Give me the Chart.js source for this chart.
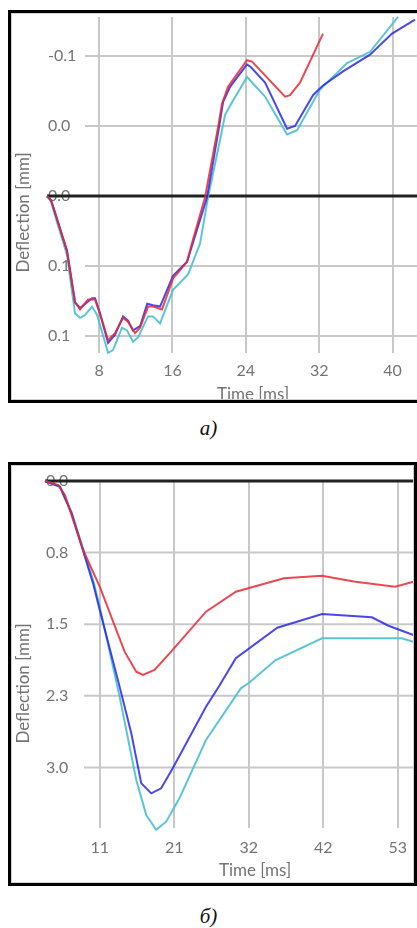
<!DOCTYPE html>
<html>
<head>
<meta charset="utf-8">
<script src="https://cdn.jsdelivr.net/npm/chart.js@4.4.1/dist/chart.umd.min.js"></script>
<style>
  html, body { margin: 0; padding: 0; background: #fff; overflow: hidden; width: 417px; height: 928px; }
  canvas { position: absolute; left: 0; }
  #chartA { top: 0; }
  #chartB { top: 455px; }
  .frame { position: absolute; box-sizing: border-box; border: 3px solid #000; box-shadow: inset 0 0 0 1px #cfcfcf; pointer-events: none; }
  #frameA { left: 8px; top: 10px; width: 420px; height: 393px; }
  #frameB { left: 8px; top: 462px; width: 409px; height: 424px; }
  .cap { position: absolute; left: 0; width: 417px; text-align: center; font: italic 21px "Liberation Serif", serif; color: #111; }
</style>
</head>
<body>
<canvas id="chartA" width="417" height="405"></canvas>
<div class="frame" id="frameA"></div>
<div class="cap" style="top:416px">a)</div>
<canvas id="chartB" width="417" height="430"></canvas>
<div class="frame" id="frameB"></div>
<div class="cap" style="top:904px">б)</div>
<script>
// ---- chart a) ----
const xTicksA = [8, 16, 24, 32, 40];
const xLabelsA = ['8', '16', '24', '32', '40'];
const yTicksA = [-0.1, -0.05, 0, 0.05, 0.1];
const yLabelsA = ['-0.1', '0.0', '0.0', '0.1', '0.1'];

const redTimeA = [2.32, 2.76, 3.2, 4.5, 5.38, 5.92, 6.79, 7.56, 8.1, 8.98, 9.74, 10.61, 11.16, 11.92, 12.47, 13.34, 13.88, 14.86, 16.06, 17.59, 18.24, 19.55, 20.97, 21.41, 22.06, 24.13, 24.68, 28.28, 28.82, 29.91, 32.42];
const redDeflA = [0, 0.003, 0.012, 0.039, 0.076, 0.081, 0.074, 0.074, 0.084, 0.103, 0.098, 0.087, 0.09, 0.098, 0.094, 0.079, 0.079, 0.081, 0.059, 0.047, 0.031, 0.001, -0.049, -0.066, -0.078, -0.097, -0.096, -0.071, -0.072, -0.081, -0.116];

const blueTimeA = [2.32, 2.76, 3.2, 4.5, 5.38, 5.92, 7.24, 7.56, 8.1, 8.98, 9.74, 10.61, 11.16, 11.7, 12.47, 13.25, 13.88, 14.65, 16.06, 17.59, 18.35, 19.77, 21.08, 21.52, 22.28, 24.13, 24.57, 26.1, 28.5, 29.37, 31.33, 32.42, 34.6, 37.55, 39.95, 42.45];
const blueDeflA = [0, 0.003, 0.012, 0.039, 0.076, 0.08, 0.073, 0.073, 0.084, 0.105, 0.099, 0.086, 0.089, 0.096, 0.093, 0.077, 0.078, 0.079, 0.057, 0.047, 0.031, 0.001, -0.049, -0.067, -0.078, -0.094, -0.092, -0.081, -0.048, -0.05, -0.072, -0.079, -0.089, -0.101, -0.116, -0.126];

const cyanTimeA = [2.32, 2.76, 3.2, 4.5, 5.38, 5.92, 6.47, 7.24, 7.78, 8.98, 9.52, 10.5, 11.05, 11.7, 12.25, 13.34, 13.88, 14.65, 16.06, 17.7, 19.01, 19.88, 21.19, 21.74, 22.5, 24.13, 26.1, 28.5, 29.59, 32.09, 35.04, 37.55, 40.6];
const cyanDeflA = [0, 0.004, 0.014, 0.042, 0.084, 0.087, 0.085, 0.079, 0.085, 0.112, 0.11, 0.094, 0.096, 0.104, 0.101, 0.086, 0.086, 0.091, 0.067, 0.056, 0.034, 0.001, -0.04, -0.058, -0.067, -0.085, -0.071, -0.044, -0.047, -0.076, -0.095, -0.103, -0.128];

// ---- chart б) ----
const xTicksB = [10.6, 21.2, 31.8, 42.4, 53];
const xLabelsB = ['11', '21', '32', '42', '53'];
const yTicksB = [0, 0.75, 1.5, 2.25, 3.0];
const yLabelsB = ['0.0', '0.8', '1.5', '2.3', '3.0'];

const redTimeB = [2.81, 4.69, 5.64, 8.23, 10.6, 14.14, 15.8, 16.74, 18.39, 20.76, 25.72, 29.97, 31.85, 36.81, 42.24, 46.97, 52.64, 55.23];
const redDeflB = [0, 0.042, 0.147, 0.723, 1.107, 1.788, 1.998, 2.032, 1.98, 1.788, 1.369, 1.16, 1.121, 1.019, 0.992, 1.055, 1.107, 1.055];

const blueTimeB = [2.81, 4.93, 6.59, 9.65, 10.6, 13.43, 15.09, 16.51, 17.93, 19.34, 20.99, 25.72, 27.6, 29.97, 35.87, 42.24, 49.33, 51.69, 55.23];
const blueDeflB = [0, 0.06, 0.338, 1.072, 1.351, 2.155, 2.643, 3.167, 3.272, 3.219, 3.01, 2.365, 2.148, 1.857, 1.537, 1.393, 1.428, 1.516, 1.613];

const cyanTimeB = [2.81, 4.93, 6.59, 9.65, 10.6, 13.43, 15.8, 17.22, 18.63, 20.05, 21.94, 25.72, 30.68, 31.85, 35.64, 42.24, 53.58, 55.23];
const cyanDeflB = [0, 0.052, 0.322, 1.037, 1.317, 2.26, 3.133, 3.499, 3.653, 3.569, 3.324, 2.713, 2.172, 2.113, 1.875, 1.648, 1.648, 1.684];

const RED = 'rgba(232, 40, 52, 0.85)';
const BLUE = 'rgba(40, 40, 235, 0.85)';
const CYAN = 'rgba(72, 192, 208, 0.9)';
const TEXT = '#747474';
const GRID = '#c8c8c8';
const FONT = 'Lato';

const pairs = (xs, ys) => xs.map((x, i) => ({ x: x, y: ys[i] }));

// horizontal grid starts right of the tick labels, zero line is black, axis titles
const refLines = {
    id: 'refLines',
    beforeDatasetsDraw(chart, args, o) {
        const { ctx, chartArea, scales: { y } } = chart;
        ctx.save();
        y.ticks.forEach(t => {
            if (t.value === 0) return;
            const py = y.getPixelForValue(t.value);
            ctx.strokeStyle = GRID;
            ctx.lineWidth = 2;
            ctx.beginPath();
            ctx.moveTo(o.gridStart, py);
            ctx.lineTo(chartArea.right, py);
            ctx.stroke();
        });
        const p0 = y.getPixelForValue(0);
        ctx.strokeStyle = '#222';
        ctx.lineWidth = 3;
        ctx.beginPath();
        ctx.moveTo(chartArea.left, p0);
        ctx.lineTo(chartArea.right, p0);
        ctx.stroke();
        ctx.restore();
    },
    afterDraw(chart, args, o) {
        const { ctx } = chart;
        ctx.save();
        ctx.fillStyle = TEXT;
        ctx.font = o.titleSize + 'px ' + FONT;
        ctx.textAlign = 'center';
        ctx.textBaseline = 'middle';
        ctx.fillText('Time [ms]', o.xTitle[0], o.xTitle[1]);
        ctx.translate(o.yTitle[0], o.yTitle[1]);
        ctx.rotate(-Math.PI / 2);
        ctx.fillText('Deflection [mm]', 0, 0);
        ctx.restore();
    }
};

function makeChart(id, c) {
    return new Chart(document.getElementById(id), {
        type: 'line',
        data: {
            datasets: [
                { data: pairs(c.red[0], c.red[1]), borderColor: RED },
                { data: pairs(c.blue[0], c.blue[1]), borderColor: BLUE },
                { data: pairs(c.cyan[0], c.cyan[1]), borderColor: CYAN }
            ].map(d => Object.assign(d, { borderWidth: 2, pointRadius: 0, tension: 0, clip: false, fill: false }))
        },
        options: {
            responsive: false,
            animation: false,
            events: [],
            layout: { padding: c.padding },
            plugins: {
                legend: { display: false },
                tooltip: { enabled: false },
                refLines: c.ref
            },
            scales: {
                x: {
                    type: 'linear',
                    min: c.xRange[0],
                    max: c.xRange[1],
                    afterBuildTicks: s => { s.ticks = c.xTicks.map(v => ({ value: v })); },
                    afterFit: s => { s.height = c.xHeight; },
                    grid: { color: GRID, lineWidth: 2, drawTicks: false },
                    border: { display: false },
                    ticks: {
                        autoSkip: false, maxRotation: 0, padding: c.xPad, color: TEXT,
                        font: { family: FONT, size: 16 },
                        callback: (v, i) => c.xLabels[i]
                    }
                },
                y: {
                    type: 'linear',
                    reverse: true,
                    min: c.yRange[0],
                    max: c.yRange[1],
                    afterBuildTicks: s => { s.ticks = c.yTicks.map(v => ({ value: v })); },
                    afterFit: s => { s.width = 0; },
                    grid: { display: false },
                    border: { display: false },
                    ticks: {
                        mirror: true, padding: 1, color: TEXT,
                        font: { family: FONT, size: 16 },
                        callback: (v, i) => c.yLabels[i]
                    }
                }
            }
        },
        plugins: [refLines]
    });
}

makeChart('chartA', {
    red: [redTimeA, redDeflA], blue: [blueTimeA, blueDeflA], cyan: [cyanTimeA, cyanDeflA],
    xTicks: xTicksA, xLabels: xLabelsA, yTicks: yTicksA, yLabels: yLabelsA,
    xRange: [2.32, 42.67], yRange: [-0.12786, 0.11214],
    padding: { left: 47, top: 17, right: 0, bottom: 0 },
    xHeight: 52, xPad: 8,
    ref: { gridStart: 85, titleSize: 17, xTitle: [253, 395], yTitle: [23.5, 212.5] }
});

makeChart('chartB', {
    red: [redTimeB, redDeflB], blue: [blueTimeB, blueDeflB], cyan: [cyanTimeB, cyanDeflB],
    xTicks: xTicksB, xLabels: xLabelsB, yTicks: yTicksB, yLabels: yLabelsB,
    xRange: [2.81, 55.38], yRange: [0, 3.635],
    padding: { left: 45, top: 26, right: 1, bottom: 0 },
    xHeight: 57, xPad: 10,
    ref: { gridStart: 84, titleSize: 17, xTitle: [255, 416], yTitle: [24, 228.5] }
});
</script>
</body>
</html>
